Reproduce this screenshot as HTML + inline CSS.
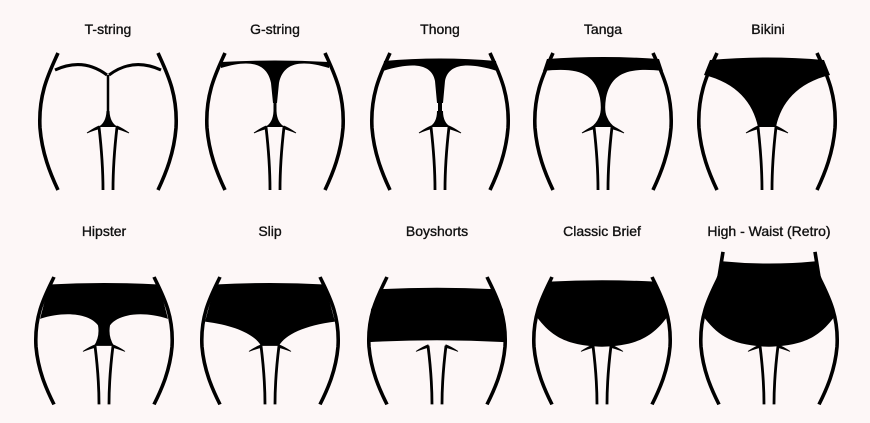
<!DOCTYPE html>
<html><head><meta charset="utf-8"><style>
html,body{margin:0;padding:0;background:#fdf7f7;}
svg{display:block}
text{font-family:"Liberation Sans",sans-serif;font-size:14px;fill:#111;text-anchor:middle;stroke:#111;stroke-width:0.35px}
</style></head><body>
<svg width="870" height="423" viewBox="0 0 870 423" xmlns="http://www.w3.org/2000/svg">
<rect width="870" height="423" fill="#fdf7f7"/>
<defs>
<g id="body">
<path d="M-50,0 C-58,18 -70,40 -68,75 C-66,100 -58,120 -50,137" fill="none" stroke="#000" stroke-width="3.6"/>
<path d="M50,0 C58,18 70,40 68,75 C66,100 58,120 50,137" fill="none" stroke="#000" stroke-width="3.6"/>
<path d="M-9,74 C-6,100 -5,120 -5,137" fill="none" stroke="#000" stroke-width="2.8"/>
<path d="M9,74 C6,100 5,120 5,137" fill="none" stroke="#000" stroke-width="2.8"/>
<path d="M-21,80 Q-14,75 -9,73 L-8,75.5 Q-14,77 -21,80 Z" fill="#000" stroke="#000" stroke-width="0.8"/>
<path d="M21,80 Q14,75 9,73 L8,75.5 Q14,77 21,80 Z" fill="#000" stroke="#000" stroke-width="0.8"/>
</g>
<g id="crotch">
<path d="M-1.5,58 Q-2,70 -10,74 L10,74 Q2,70 1.5,58 Z" fill="#000"/>
</g>
</defs>

<text x="108" y="34">T-string</text>
<text x="275" y="34">G-string</text>
<text x="440" y="34">Thong</text>
<text x="603" y="34">Tanga</text>
<text x="768" y="34">Bikini</text>
<text x="104" y="236">Hipster</text>
<text x="270" y="236">Slip</text>
<text x="437" y="236">Boyshorts</text>
<text x="602" y="236">Classic Brief</text>
<text x="769" y="236">High - Waist (Retro)</text>

<!-- T-string -->
<g transform="translate(108,53)">
<use href="#body"/>
<path d="M-53,17 Q-25,4 -1,22 M53,17 Q25,4 1,22" fill="none" stroke="#000" stroke-width="3"/>
<path d="M0,22 L0,62" stroke="#000" stroke-width="2.5"/>
<use href="#crotch"/>
</g>
<!-- G-string -->
<g transform="translate(275,53)">
<use href="#body"/>
<path d="M-54,9 Q0,6 54,9 L54,15 C25,6 8,10 4,30 L2,50 L-2,50 L-4,30 C-8,10 -25,6 -54,15 Z" fill="#000"/>
<path d="M0,48 L0,62" stroke="#000" stroke-width="3"/>
<use href="#crotch"/>
</g>
<!-- Thong -->
<g transform="translate(440,53)">
<use href="#body"/>
<path d="M-56,8 Q0,3 56,8 L57,18 C25,8 8,12 5,28 L3,50 L-3,50 L-5,28 C-8,12 -25,8 -57,18 Z" fill="#000"/>
<path d="M0,48 L0,62" stroke="#000" stroke-width="4"/>
<path d="M-3,58 Q-3,70 -11,74 L11,74 Q3,70 3,58 Z" fill="#000"/>
</g>
<!-- Tanga -->
<g transform="translate(603,53)">
<use href="#body"/>
<path d="M-56,6 Q0,2 56,6 L60,18 C25,14 8,20 3,45 Q1,58 4,64 Q7,71 12,74 L-12,74 Q-7,71 -4,64 Q-1,58 -3,45 C-8,20 -25,14 -60,18 Z" fill="#000"/>
</g>
<!-- Bikini -->
<g transform="translate(767,53)">
<use href="#body"/>
<path d="M-57,7 Q0,2 57,7 L63,22 C30,30 14,50 9,74 L-9,74 C-14,50 -30,30 -63,22 Z" fill="#000"/>
</g>

<!-- Row 2 -->
<g transform="translate(104,277) scale(1,0.93)">
<use href="#body"/>
<path d="M-55,8 Q0,5 55,8 L64,45 C38,36 14,40 6,52 Q4,64 10,74 L-10,74 Q-4,64 -6,52 C-14,40 -38,36 -64,45 Z" fill="#000"/>
</g>
<g transform="translate(270,277) scale(1,0.93)">
<use href="#body"/>
<path d="M-55,8 Q0,5 55,8 L65,48 C35,52 15,62 9,74 L-9,74 C-15,62 -35,52 -65,48 Z" fill="#000"/>
</g>
<g transform="translate(437,277) scale(1,0.93)">
<use href="#body"/>
<path d="M-56,13 Q0,10 56,13 L66,35 L68,70 Q0,66 -68,70 L-66,35 Z" fill="#000"/>
</g>
<g transform="translate(602,277) scale(1,0.93)">
<use href="#body"/>
<path d="M-53,5 Q0,2 53,5 L66,42 C52,62 38,74 0,75 C-38,74 -52,62 -66,42 Z" fill="#000"/>
</g>
<g transform="translate(769,277) scale(1,0.93)">
<use href="#body"/>
<path d="M-46,-27 L-50,0 M46,-27 L50,0" stroke="#000" stroke-width="3.6"/>
<path d="M-47,-17 Q0,-12 47,-17 L52,0 L66,42 C52,62 38,74 0,75 C-38,74 -52,62 -66,42 L-52,0 Z" fill="#000"/>
</g>
</svg>
</body></html>
